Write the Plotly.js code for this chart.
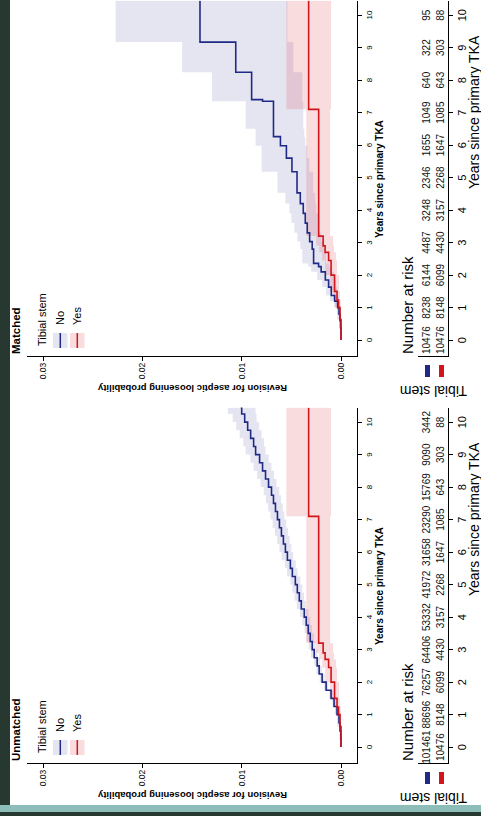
<!DOCTYPE html>
<html>
<head>
<meta charset="utf-8">
<script src="https://cdn.plot.ly/plotly-3.0.1.min.js"></script>
<style>
  html, body { margin:0; padding:0; width:481px; height:816px; overflow:hidden; background:#fff; }
  #chart { position:absolute; left:0; top:0; width:816px; height:481px;
           transform-origin:0 0; transform:translate(0px,816px) rotate(-90deg); }
  .deco { position:absolute; z-index:5; }
</style>
</head>
<body>
<div id="chart"></div>
<div class="deco" style="left:0;top:0;width:10px;height:805px;background:#263830;"></div>
<div class="deco" style="left:0;top:805px;width:481px;height:7px;background:#8dbdb9;"></div>
<div class="deco" style="left:0;top:812px;width:481px;height:4px;background:#263830;"></div>
<script>
// ---------- data ----------
const years = [0,1,2,3,4,5,6,7,8,9,10];
const probTicks = [0, 0.01, 0.02, 0.03];
const probTickText = ['0.00','0.01','0.02','0.03'];

// Unmatched, tibial stem = No
const unNoT  = [0,0.25,0.5,0.75,1.0,1.25,1.5,1.75,2.0,2.25,2.5,2.75,3.0,3.25,3.5,3.75,4.0,4.25,4.5,4.75,5.0,5.25,5.5,5.75,6.0,6.25,6.5,6.75,7.0,7.25,7.5,7.75,8.0,8.25,8.5,8.75,9.0,9.25,9.5,9.75,10.0,10.25,10.44];
const unNoP  = [0,0.00003,0.0001,0.0002,0.0004,0.0007,0.0010,0.0015,0.0019,0.0022,0.0024,0.0027,0.0029,0.0031,0.0033,0.0035,0.0037,0.0040,0.0042,0.0044,0.0046,0.0049,0.0051,0.0054,0.0056,0.0058,0.0060,0.0062,0.0064,0.0066,0.0068,0.0070,0.0073,0.0076,0.0079,0.0082,0.0086,0.0088,0.0091,0.0094,0.0097,0.0100,0.0101];
const unNoLo = [0,0,0.00002,0.00008,0.00025,0.00052,0.0008,0.00128,0.00165,0.00193,0.0021,0.00238,0.00255,0.00273,0.00292,0.0031,0.00328,0.00355,0.00373,0.0039,0.0041,0.00437,0.00455,0.00482,0.0050,0.00517,0.00535,0.00552,0.0057,0.00587,0.00605,0.00622,0.0065,0.00675,0.0070,0.00727,0.0076,0.00775,0.0080,0.00825,0.0085,0.0086,0.0086];
const unNoHi = [0,0.00006,0.00018,0.00032,0.00055,0.00088,0.0012,0.00172,0.00215,0.00247,0.0027,0.00302,0.00325,0.00347,0.00368,0.0039,0.00412,0.00445,0.00467,0.0049,0.0051,0.00543,0.00565,0.00598,0.0062,0.00643,0.00665,0.00688,0.0071,0.00733,0.00755,0.00778,0.0081,0.00845,0.0088,0.00913,0.0096,0.00985,0.0102,0.01055,0.0109,0.0114,0.0121];

// Tibial stem = Yes (same group in both panels)
const yesT  = [0,0.63,1.0,1.23,1.5,2.0,2.45,2.7,2.9,3.2,7.1,10.44];
const yesP  = [0,0.0001,0.00025,0.0004,0.00065,0.0010,0.00125,0.0016,0.0018,0.00225,0.00326,0.00326];
const yesLo = [0,0,0.00003,0.0001,0.0002,0.0004,0.0005,0.0007,0.0008,0.0011,0.0010,0.0010];
const yesHi = [0,0.0004,0.0006,0.0008,0.0011,0.0016,0.0019,0.0022,0.0025,0.0035,0.0055,0.0055];

// Matched, tibial stem = No
const maNoT  = [0,0.38,0.6,0.8,1.0,1.2,1.37,1.63,1.85,2.1,2.26,2.36,2.8,3.03,3.3,3.6,3.9,4.2,4.53,5.18,5.6,5.98,6.26,6.5,7.35,7.4,8.24,9.17,10.44];
const maNoP  = [0,0.00005,0.0001,0.0002,0.00034,0.00064,0.00098,0.00125,0.00158,0.0020,0.00226,0.00276,0.0029,0.00316,0.0034,0.0036,0.0038,0.0041,0.00443,0.00494,0.0055,0.0061,0.0068,0.0068,0.0079,0.0090,0.0106,0.0142,0.0142];
const maNoLo = [0,0,0.00002,0.00005,0.0001,0.0002,0.0004,0.0005,0.0007,0.0010,0.0012,0.0015,0.0017,0.0020,0.0022,0.0023,0.0025,0.0026,0.0028,0.0032,0.0034,0.0036,0.0037,0.0038,0.0039,0.0039,0.0048,0.0054,0.0054];
const maNoHi = [0,0.0001,0.00022,0.0004,0.0007,0.0011,0.0015,0.0019,0.0024,0.0030,0.0033,0.0039,0.0041,0.0044,0.0047,0.0050,0.0052,0.0056,0.0064,0.0080,0.0080,0.0086,0.0086,0.0096,0.0130,0.0130,0.0160,0.0227,0.0227];

// Number at risk
const riskUnNo  = ['101461','88696','76257','64406','53332','41972','31658','23290','15769','9090','3442'];
const riskUnYes = ['10476','8148','6099','4430','3157','2268','1647','1085','643','303','88'];
const riskMaNo  = ['10476','8238','6144','4487','3248','2346','1655','1049','640','322','95'];
const riskMaYes = ['10476','8148','6099','4430','3157','2268','1647','1085','643','303','88'];

// ---------- style ----------
const BLUE = '#1f2a86', RED = '#d0151b';
const BLUEF = 'rgba(40,40,150,0.12)', REDF = 'rgba(215,40,50,0.16)';
const W = 816, H = 481;
const P = px => px / W, Q = py => 1 - py / H;
const XR = [-0.49, 10.45];

function band(t, lo, hi, col, xa, ya) {
  return [
    {x:t, y:lo, xaxis:xa, yaxis:ya, mode:'lines', line:{width:0, shape:'hv'}, hoverinfo:'skip'},
    {x:t, y:hi, xaxis:xa, yaxis:ya, mode:'lines', line:{width:0, shape:'hv'}, fill:'tonexty', fillcolor:col, hoverinfo:'skip'}
  ];
}
function curve(t, p, col, xa, ya) {
  return {x:t, y:p, xaxis:xa, yaxis:ya, mode:'lines', line:{color:col, width:1.6, shape:'hv'}, hoverinfo:'skip'};
}
function risk(vals, yv, xa, ya) {
  return {x:years, y:years.map(()=>yv), text:vals, xaxis:xa, yaxis:ya, mode:'text',
          textfont:{size:10, color:'#111'}, cliponaxis:false, hoverinfo:'skip'};
}

const traces = [
  ...band(unNoT, unNoLo, unNoHi, BLUEF, 'x', 'y'),
  ...band(yesT, yesLo, yesHi, REDF, 'x', 'y'),
  curve(unNoT, unNoP, BLUE, 'x', 'y'),
  curve(yesT, yesP, RED, 'x', 'y'),
  ...band(maNoT, maNoLo, maNoHi, BLUEF, 'x2', 'y2'),
  ...band(yesT, yesLo, yesHi, REDF, 'x2', 'y2'),
  curve(maNoT, maNoP, BLUE, 'x2', 'y2'),
  curve(yesT, yesP, RED, 'x2', 'y2'),
  risk(riskUnNo, 2.03, 'x3', 'y3'),
  risk(riskUnYes, 0.63, 'x3', 'y3'),
  risk(riskMaNo, 2.03, 'x4', 'y4'),
  risk(riskMaYes, 0.63, 'x4', 'y4')
];

const axBase = {showgrid:false, zeroline:false, showline:true, linecolor:'#000', linewidth:1,
                ticks:'outside', ticklen:4, tickwidth:1, tickcolor:'#000', fixedrange:true};
const plotX = d => Object.assign({}, axBase, {domain:d, range:XR, tickvals:years, tickfont:{size:8}});
const plotY = (a) => Object.assign({}, axBase, {domain:[Q(357), Q(27)], range:[-0.00161, 0.03162], anchor:a,
                tickvals:probTicks, ticktext:probTickText, tickfont:{size:8.5}});
const tabX = (d, a) => Object.assign({}, axBase, {domain:d, range:XR, tickvals:years, tickfont:{size:11}, anchor:a});
const tabY = a => Object.assign({}, axBase, {domain:[Q(448), Q(418)], range:[0,3], ticks:'', showticklabels:false, anchor:a});

const dU = [P(53), P(408.5)], dM = [P(460), P(815.5)];

const ann = [];
const shp = [];
function panelDeco(off, title) {
  ann.push({text:'<b>'+title+'</b>', x:P(53+off), y:Q(16), xref:'paper', yref:'paper', xanchor:'left', yanchor:'middle', showarrow:false, font:{size:11.5}});
  ann.push({text:'<b>Revision for aseptic loosening probability</b>', x:P(20+off), y:Q(192), xref:'paper', yref:'paper', xanchor:'center', yanchor:'middle', textangle:-90, showarrow:false, font:{size:9.5}});
  ann.push({text:'<b>Years since primary TKA</b>', x:P(230+off), y:Q(379), xref:'paper', yref:'paper', xanchor:'center', yanchor:'middle', showarrow:false, font:{size:10}});
  ann.push({text:'Number at risk', x:P(53+off), y:Q(407), xref:'paper', yref:'paper', xanchor:'left', yanchor:'middle', showarrow:false, font:{size:15}});
  ann.push({text:'Tibial stem', x:P(18+off), y:Q(434), xref:'paper', yref:'paper', xanchor:'center', yanchor:'middle', textangle:-90, showarrow:false, font:{size:14}});
  ann.push({text:'Years since primary TKA', x:P(297+off), y:Q(464), xref:'paper', yref:'paper', xanchor:'center', yanchor:'top', showarrow:false, font:{size:14}});
  // legend
  ann.push({text:'Tibial stem', x:P(61+off), y:Q(41.5), xref:'paper', yref:'paper', xanchor:'left', yanchor:'middle', showarrow:false, font:{size:11}});
  ann.push({text:'No', x:P(82+off), y:Q(60.5), xref:'paper', yref:'paper', xanchor:'left', yanchor:'middle', showarrow:false, font:{size:11}});
  ann.push({text:'Yes', x:P(82+off), y:Q(77), xref:'paper', yref:'paper', xanchor:'left', yanchor:'middle', showarrow:false, font:{size:11}});
  shp.push({type:'rect', xref:'paper', yref:'paper', x0:P(61+off), x1:P(76+off), y0:Q(53), y1:Q(67.5), fillcolor:BLUEF, line:{width:0}});
  shp.push({type:'line', xref:'paper', yref:'paper', x0:P(61+off), x1:P(76+off), y0:Q(60.3), y1:Q(60.3), line:{color:BLUE, width:1.5}});
  shp.push({type:'rect', xref:'paper', yref:'paper', x0:P(61+off), x1:P(76+off), y0:Q(70), y1:Q(84.5), fillcolor:REDF, line:{width:0}});
  shp.push({type:'line', xref:'paper', yref:'paper', x0:P(61+off), x1:P(76+off), y0:Q(77.3), y1:Q(77.3), line:{color:RED, width:1.5}});
  // risk-table row keys
  shp.push({type:'rect', xref:'paper', yref:'paper', x0:P(32+off), x1:P(44+off), y0:Q(425), y1:Q(430), fillcolor:BLUE, line:{width:0}});
  shp.push({type:'rect', xref:'paper', yref:'paper', x0:P(32+off), x1:P(44+off), y0:Q(439), y1:Q(444), fillcolor:RED, line:{width:0}});
}
panelDeco(0, 'Unmatched');
panelDeco(407, 'Matched');

const layout = {
  width:W, height:H, margin:{l:0, r:0, t:0, b:0, pad:0}, showlegend:false,
  paper_bgcolor:'#fff', plot_bgcolor:'rgba(0,0,0,0)',
  font:{family:'"Liberation Sans", Arial, sans-serif', color:'#000'},
  xaxis: Object.assign(plotX(dU), {anchor:'y'}),
  yaxis: plotY('x'),
  xaxis2: Object.assign(plotX(dM), {anchor:'y2'}),
  yaxis2: plotY('x2'),
  xaxis3: tabX(dU, 'y3'),
  yaxis3: tabY('x3'),
  xaxis4: tabX(dM, 'y4'),
  yaxis4: tabY('x4'),
  annotations: ann,
  shapes: shp
};

Plotly.newPlot('chart', traces, layout, {staticPlot:true, displayModeBar:false});
</script>
</body>
</html>
